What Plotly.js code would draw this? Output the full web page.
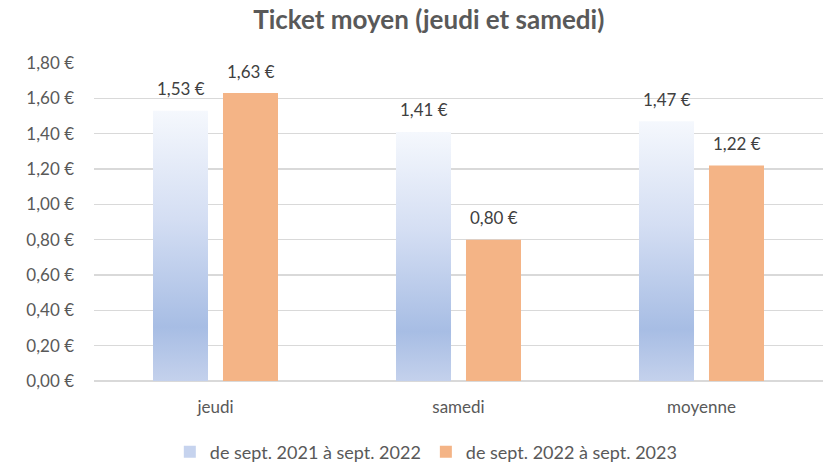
<!DOCTYPE html>
<html>
<head>
<meta charset="utf-8">
<script src="https://cdn.plot.ly/plotly-3.0.1.min.js"></script>
<style>html,body{margin:0;padding:0;background:#fff}#chart{width:823px;height:465px}</style>
</head>
<body>
<div id="chart"></div>
<script>
const categories = ["jeudi", "samedi", "moyenne"];
const seriesNames = ["de sept. 2021 à sept. 2022", "de sept. 2022 à sept. 2023"];
const values2122 = [1.53, 1.41, 1.47];
const values2223 = [1.63, 0.80, 1.22];
const tickValues = [0, 0.2, 0.4, 0.6, 0.8, 1.0, 1.2, 1.4, 1.6, 1.8];
const tickLabels = ["0,00 €", "0,20 €", "0,40 €", "0,60 €", "0,80 €", "1,00 €", "1,20 €", "1,40 €", "1,60 €", "1,80 €"];

const FONT = "Lato, 'Open Sans', sans-serif";
const labelFont = {family: FONT, size: 17, color: "#404040"};

function euro(v) { return v.toFixed(2).replace(".", ",") + " €"; }

const traces = [
  {
    type: "bar", name: seriesNames[0], x: categories, y: values2122,
    marker: {color: "#c6d3ee"}, hoverinfo: "skip"
  },
  {
    type: "bar", name: seriesNames[1], x: categories, y: values2223,
    marker: {color: "#f4b486"}, hoverinfo: "skip"
  }
];

// value labels placed in data coordinates, offset to sit over each grouped bar
const annotations = [];
[[values2122, -35], [values2223, 35]].forEach(function (pair) {
  const vals = pair[0], dx = pair[1];
  categories.forEach(function (c, i) {
    annotations.push({x: c, y: vals[i], xref: "x", yref: "y", text: euro(vals[i]), showarrow: false,
                      xshift: dx, yshift: 22, yanchor: "middle", xanchor: "center", font: labelFont});
  });
});

const layout = {
  width: 823, height: 465,
  margin: {l: 94, r: 0, t: 63, b: 84},
  paper_bgcolor: "#fff", plot_bgcolor: "#fff",
  separators: ", ",
  font: {family: FONT, size: 17, color: "#595959"},
  title: {text: "Ticket moyen (jeudi et samedi)", font: {family: FONT, size: 26, color: "#595959", weight: "bold"},
          x: 0.521, xref: "container", xanchor: "center", y: 0.957, yref: "container", yanchor: "middle"},
  barmode: "group", bargap: 0.424, bargroupgap: 0.214,
  xaxis: {type: "category", showgrid: false, showline: false, ticks: "", ticklen: 0, ticklabelstandoff: 14,
          tickfont: {family: FONT, size: 17, color: "#595959"}},
  yaxis: {range: [0, 1.8], tickmode: "array", tickvals: tickValues, ticktext: tickLabels,
          showgrid: true, gridcolor: "#d9d9d9", gridwidth: 1.3, zeroline: true, zerolinecolor: "#d9d9d9", zerolinewidth: 1.3,
          showline: false, ticks: "", ticklabelstandoff: 19,
          tickfont: {family: FONT, size: 17, color: "#595959"}},
  annotations: annotations,
  showlegend: true,
  legend: {orientation: "h", xref: "container", yref: "container", x: 0.518, xanchor: "center", y: 0.028, yanchor: "middle",
           font: {family: FONT, size: 18, color: "#595959"}, itemwidth: 30, traceorder: "normal"}
};

Plotly.newPlot("chart", traces, layout, {displayModeBar: false, staticPlot: true}).then(function (gd) {
  const svg = gd.querySelector("svg.main-svg");
  const ns = "http://www.w3.org/2000/svg";
  let defs = svg.querySelector("defs");
  if (!defs) { defs = document.createElementNS(ns, "defs"); svg.insertBefore(defs, svg.firstChild); }
  const grad = document.createElementNS(ns, "linearGradient");
  grad.setAttribute("id", "blueGrad");
  grad.setAttribute("x1", "0"); grad.setAttribute("y1", "0");
  grad.setAttribute("x2", "0"); grad.setAttribute("y2", "1");
  [["0", "#f5f8fd"], ["0.4", "#d4def3"], ["0.8", "#a7bde4"], ["1", "#c4d1ec"]].forEach(function (s) {
    const st = document.createElementNS(ns, "stop");
    st.setAttribute("offset", s[0]); st.setAttribute("stop-color", s[1]);
    grad.appendChild(st);
  });
  defs.appendChild(grad);
  const traceGroups = gd.querySelectorAll(".barlayer .trace");
  if (traceGroups.length) {
    traceGroups[0].querySelectorAll("path").forEach(function (p) { p.style.fill = "url(#blueGrad)"; });
  }
});
</script>
</body>
</html>
